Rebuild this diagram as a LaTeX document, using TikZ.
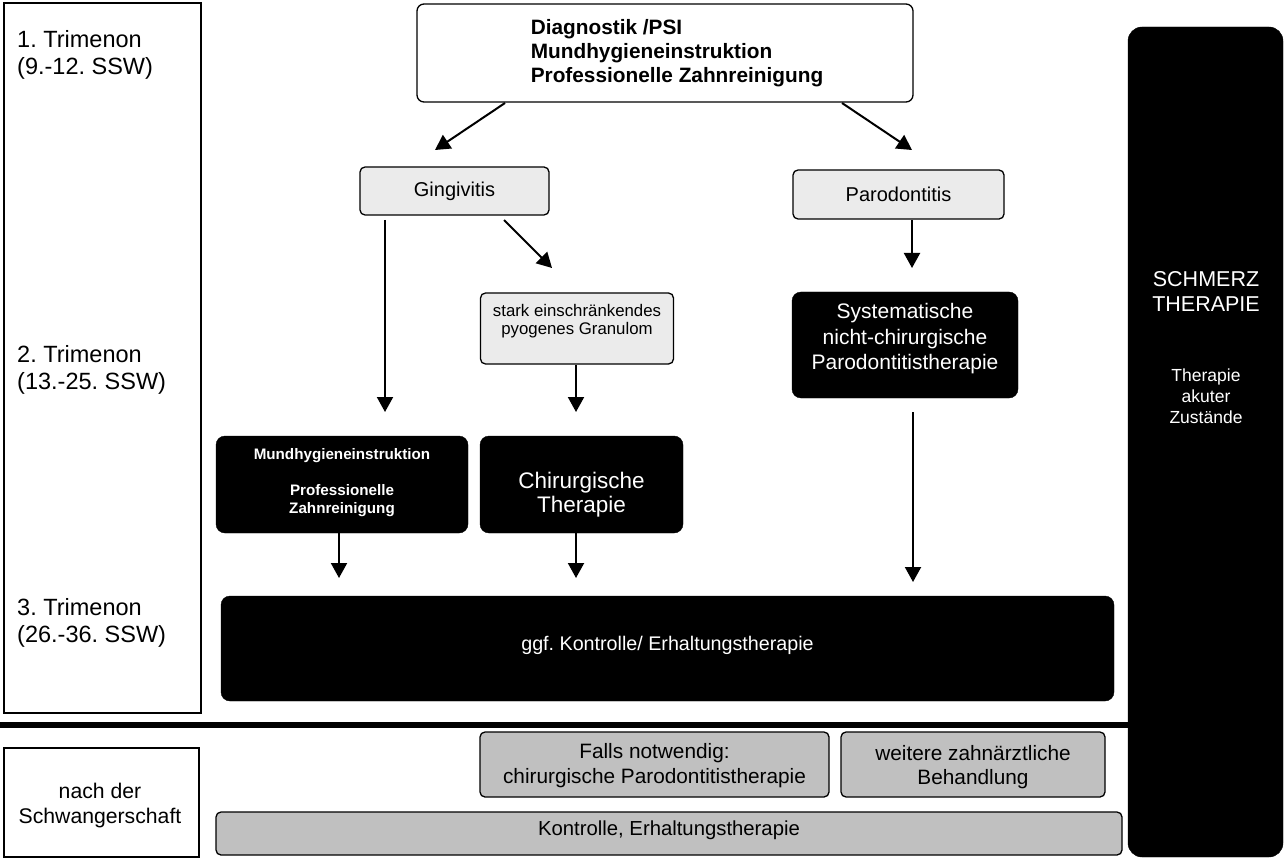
\documentclass[tikz,border=0pt]{standalone}
\usepackage{fontspec}
\setmainfont{Liberation Sans}
\usetikzlibrary{arrows.meta,calc}
\definecolor{lgray}{HTML}{EBEBEB}
\definecolor{mgray}{HTML}{C0C0C0}
\frenchspacing
\begin{document}
\begin{tikzpicture}[x=1pt,y=-1pt,
  sz/.style 2 args={minimum width=#1, minimum height=#2},
  frame/.style={draw=black, line width=1.3pt, inner sep=0pt},
  lbox/.style={frame, fill=lgray, rounded corners=5pt},
  gbox/.style={frame, fill=mgray, rounded corners=5pt},
  wbox/.style={frame, fill=white, rounded corners=7pt},
  bbox/.style={draw=black, fill=black, rounded corners=9pt, inner sep=0pt, text=white},
  lbl/.style={inner sep=0pt, align=center},
  phase/.style={inner sep=0pt, align=left, anchor=west, font=\fontsize{23.5}{27}\selectfont},
  arr/.style={line width=2pt, -{Triangle[length=15pt,width=16pt]}}
]
\useasboundingbox (0,0) rectangle (1284,858);

% phase frames
\node[frame, sz={197}{710}] (ph1) at (102.5,358) {};
\node[frame, sz={195}{109}] (ph2) at (101.5,802.5) {};
\node[phase] (t1) at (17,54.5) {1. Trimenon\\(9.-12. SSW)};
\node[phase] (t2) at (17,369.5) {2. Trimenon\\(13.-25. SSW)};
\node[phase] (t3) at (17,622.5) {3. Trimenon\\(26.-36. SSW)};
\node[lbl, font=\fontsize{21.2}{25}\selectfont] (t4) at (100,805.5) {nach der\\Schwangerschaft};

% right bar
\node[bbox, rounded corners=14pt, sz={155}{830}] (bar) at (1205.5,442) {};
\node[lbl, text=white, font=\fontsize{21.5}{25}\selectfont] (barh) at (1206,291.5) {SCHMERZ\\THERAPIE};
\node[lbl, text=white, font=\fontsize{17.5}{21}\selectfont] (bart) at (1206,396) {Therapie\\akuter\\Zustände};

% thick separator
\coordinate (sepL) at (0,725);
\draw[line width=6pt] (sepL) -- (sepL -| bar.west);

% top box
\node[wbox, sz={496}{98}] (top) at (665,53) {};
\node[inner sep=0pt, align=left, font=\bfseries\fontsize{20.8}{24}\selectfont] (toptxt) at (677,53.5)
  {Diagnostik /PSI\\Mundhygieneinstruktion\\Professionelle Zahnreinigung};

% second row
\node[lbox, sz={189}{48}, font=\fontsize{20}{24}\selectfont] (ging) at (454.5,191) {Gingivitis};
\node[lbox, sz={211}{49}, font=\fontsize{20}{24}\selectfont] (paro) at (898.5,194.5) {Parodontitis};

% third row
\node[lbox, sz={193}{71}] (gran) at (577,328.5) {};
\node[lbl, font=\fontsize{16.8}{18}\selectfont] (grantxt) at (577,321) {stark einschränkendes\\pyogenes Granulom};
\node[bbox, sz={226}{106}] (syst) at (905,345) {};
\node[lbl, text=white, font=\fontsize{21}{25.5}\selectfont] (systtxt) at (905,339)
  {Systematische\\nicht-chirurgische\\Parodontitistherapie};

% fourth row
\node[bbox, sz={252}{97}] (mund) at (342,484.5) {};
\node[lbl, text=white, font=\bfseries\fontsize{15.2}{17.5}\selectfont] (mundtxt) at (342,482.5)
  {Mundhygieneinstruktion\\[19pt]Professionelle\\Zahnreinigung};
\node[bbox, sz={203}{97}] (chir) at (581.5,484.5) {};
\node[lbl, text=white, font=\fontsize{22.5}{24}\selectfont] (chirtxt) at (581.5,495) {Chirurgische\\Therapie};

% big black box
\node[bbox, sz={893}{105}] (ggf) at (667.5,648.5) {};
\node[lbl, text=white, font=\fontsize{19.7}{24}\selectfont] (ggftxt) at (667.5,645) {ggf. Kontrolle/ Erhaltungstherapie};

% after pregnancy
\node[gbox, sz={349}{65}] (falls) at (654.5,764.5) {};
\node[lbl, font=\fontsize{20.8}{25}\selectfont] (fallstxt) at (654.5,765.5) {Falls notwendig:\\chirurgische Parodontitistherapie};
\node[gbox, sz={264}{65}] (weit) at (973,764.5) {};
\node[lbl, font=\fontsize{20.8}{24}\selectfont] (weittxt) at (973,767) {weitere zahnärztliche\\Behandlung};
\node[gbox, sz={906}{43}] (kont) at (669,833.5) {};
\node[lbl, font=\fontsize{20.3}{24}\selectfont] (konttxt) at (669,830) {Kontrolle, Erhaltungstherapie};

% connectors
\coordinate (a1s) at (505,103);  \coordinate (a1e) at (435,150);
\coordinate (a2s) at (842,103);  \coordinate (a2e) at (912,150);
\coordinate (a3s) at (385,220);  \coordinate (a3e) at (385,412);
\coordinate (a4s) at (504,220);  \coordinate (a4e) at (552,268);
\coordinate (a5s) at (576,365);  \coordinate (a5e) at (576,412);
\coordinate (a6s) at (912,220);  \coordinate (a6e) at (912,268);
\coordinate (a7s) at (913,412);  \coordinate (a7e) at (913,582);
\coordinate (a8s) at (339,533);  \coordinate (a8e) at (339,578);
\coordinate (a9s) at (576,533);  \coordinate (a9e) at (576,578);
\foreach \i in {1,...,9} {\draw[arr] (a\i s) -- (a\i e);}
\end{tikzpicture}
\end{document}
